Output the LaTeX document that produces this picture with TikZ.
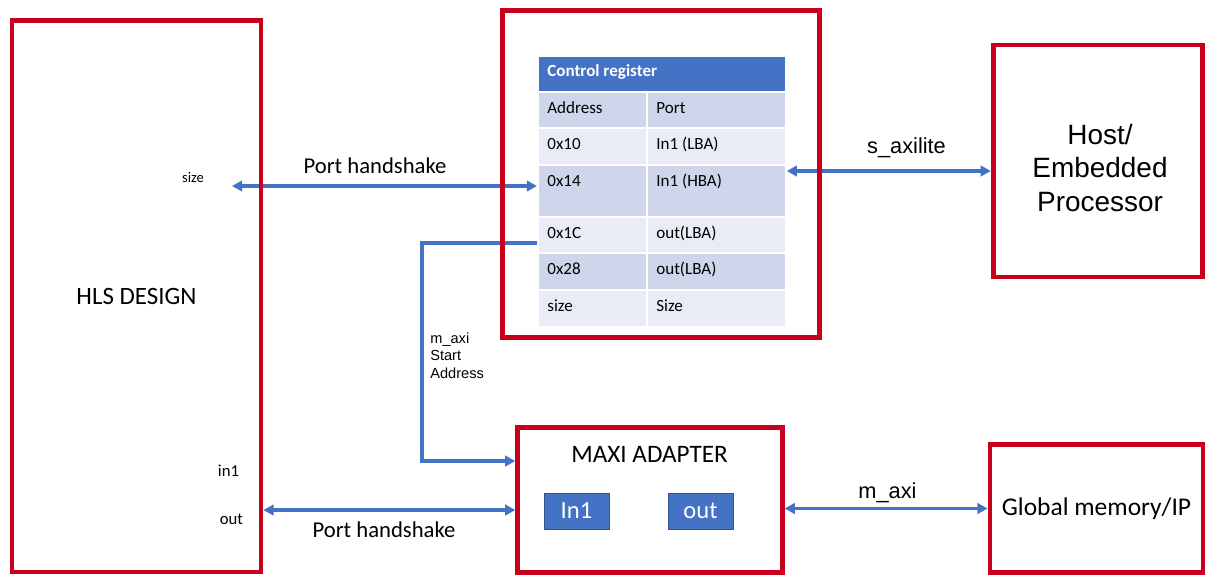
\documentclass[tikz,border=0pt]{standalone}
\usepackage{fontspec}
\setmainfont{Carlito}
\newfontfamily\arialf{Liberation Sans}
\usepackage{tikz}
\usetikzlibrary{arrows.meta, positioning, calc, backgrounds}
\definecolor{hlsred}{HTML}{C8001C}
\definecolor{axiblue}{HTML}{4472C4}
\definecolor{axidark}{HTML}{2F528F}
\definecolor{hdrblue}{HTML}{4472C4}
\definecolor{rowdark}{HTML}{CFD5EA}
\definecolor{rowlight}{HTML}{E9EBF5}
\tikzset{
  block/.style={rectangle, draw=hlsred, line width=2.8pt, align=center},
  cell/.style={rectangle, draw=white, line width=1pt, inner sep=0pt, anchor=north west},
  celltxt/.style={anchor=base west, inner sep=0pt, font=\fontsize{9.7}{11.5}\selectfont},
  portbox/.style={rectangle, draw=axidark, thin, fill=axiblue, text=white,
    minimum width=1.3cm, minimum height=0.72cm, inner sep=0pt,
    font=\fontsize{14}{16}\selectfont},
  lbl/.style={anchor=base, inner sep=0pt},
  dar/.style={{Triangle[length=5.8pt,width=6pt]}-{Triangle[length=5.8pt,width=6pt]},
    line width=2pt, axiblue},
  sar/.style={-{Triangle[length=5.8pt,width=6pt]}, line width=2pt, axiblue},
}

\begin{document}
\begin{tikzpicture}[x=0.02cm, y=-0.02cm]
  \useasboundingbox (0,0) rectangle (1206,576);

  % big blocks
  \node[block, minimum width=4.98cm, minimum height=11.04cm,
        font=\fontsize{14.2}{17}\selectfont] (hls) at (136.5,296) {HLS DESIGN};
  \node[block, minimum width=6.34cm, minimum height=6.54cm] (ctrl) at (661,174) {};
  \node[block, minimum width=4.19cm, minimum height=4.64cm] (host) at (1098,161) {};
  \node[align=center, inner sep=0pt, font=\arialf\fontsize{15.9}{18.8}\selectfont]
    (hostt) at (1100,168) {Host/\\Embedded\\Processor};
  \node[block, minimum width=5.29cm, minimum height=2.89cm] (maxi) at (650,500) {};
  \node[block, minimum width=4.26cm, minimum height=2.56cm,
        font=\fontsize{14.5}{17}\selectfont] (glob) at (1096.5,508.5) {Global memory/IP};

  % adapter contents
  \node[lbl, font=\fontsize{14.3}{17}\selectfont] (maxit) at (649.5,462) {MAXI ADAPTER};
  \node[portbox] (pin) at (576.5,511) {In1};
  \node[portbox] (pout) at (700.5,511) {out};

  % control register table
  \node[cell, fill=hdrblue, minimum width=4.96cm, minimum height=0.72cm] (hdr) at (537,55) {};
  \node[celltxt, text=white, font=\bfseries\fontsize{9.7}{11.5}\selectfont] at (547,76) {Control register};
  \foreach \n/\t/\h/\a/\p/\c in {adr/91/36/Address/Port/rowdark,
      r10/127/37/0x10/In1 (LBA)/rowlight,
      r14/164/52/0x14/In1 (HBA)/rowdark,
      r1C/216/36/0x1C/out(LBA)/rowlight,
      r28/252/37/0x28/out(LBA)/rowdark,
      rsz/289/37/size/Size/rowlight}{
    \node[cell, fill=\c, minimum width=2.18cm, minimum height=\h*0.02cm] (\n) at (537,\t) {};
    \node[cell, fill=\c, minimum width=2.78cm, minimum height=\h*0.02cm] (\n-p) at (646,\t) {};
    \node[celltxt] at (547,\t+22) {\a};
    \node[celltxt] at (656,\t+22) {\p};
  }

  % port names
  \node[lbl, font=\fontsize{8.3}{10}\selectfont] (psize) at (193,182) {size};
  \node[lbl, font=\fontsize{9.5}{11}\selectfont] (pin1) at (228.5,476) {in1};
  \node[lbl, font=\fontsize{9.5}{11}\selectfont] (pout1) at (231.5,524) {out};

  % connector labels
  \node[lbl, font=\fontsize{12.9}{15}\selectfont] (hs1) at (375,173) {Port handshake};
  \node[lbl, font=\fontsize{12.9}{15}\selectfont] (hs2) at (384,537) {Port handshake};
  \node[lbl, font=\arialf\fontsize{12.4}{15}\selectfont] (saxi) at (906.5,153) {s\_axilite};
  \node[lbl, font=\arialf\fontsize{12.4}{15}\selectfont] (maxil) at (887.5,498) {m\_axi};
  \node[anchor=north west, inner sep=0pt, align=left,
        font=\arialf\fontsize{8.3}{9.7}\selectfont] (saddr) at (430,333)
    {m\_axi\\Start\\Address};

  \coordinate (szpt) at (232,186);
  \coordinate (bend) at (422,461);
  \coordinate (ho) at ($(maxi.west)+(0,10)$);

  \begin{scope}[on background layer]
    \fill[white] (0,0) rectangle (1206,576);
    \draw[dar] (szpt) -- (szpt -| r14.west);
    \draw[dar] ($(r14-p.north east)+(0,7)$) -- ($(host.west |- r14-p.north)+(0,7)$);
    \draw[sar] ($(r1C.north west)+(0,27)$) -| (bend) -- (bend -| maxi.west);
    \draw[dar] (hls.east |- ho) -- (ho);
    \draw[dar] (maxi.east |- glob) -- (glob.west);
  \end{scope}
\end{tikzpicture}
\end{document}
